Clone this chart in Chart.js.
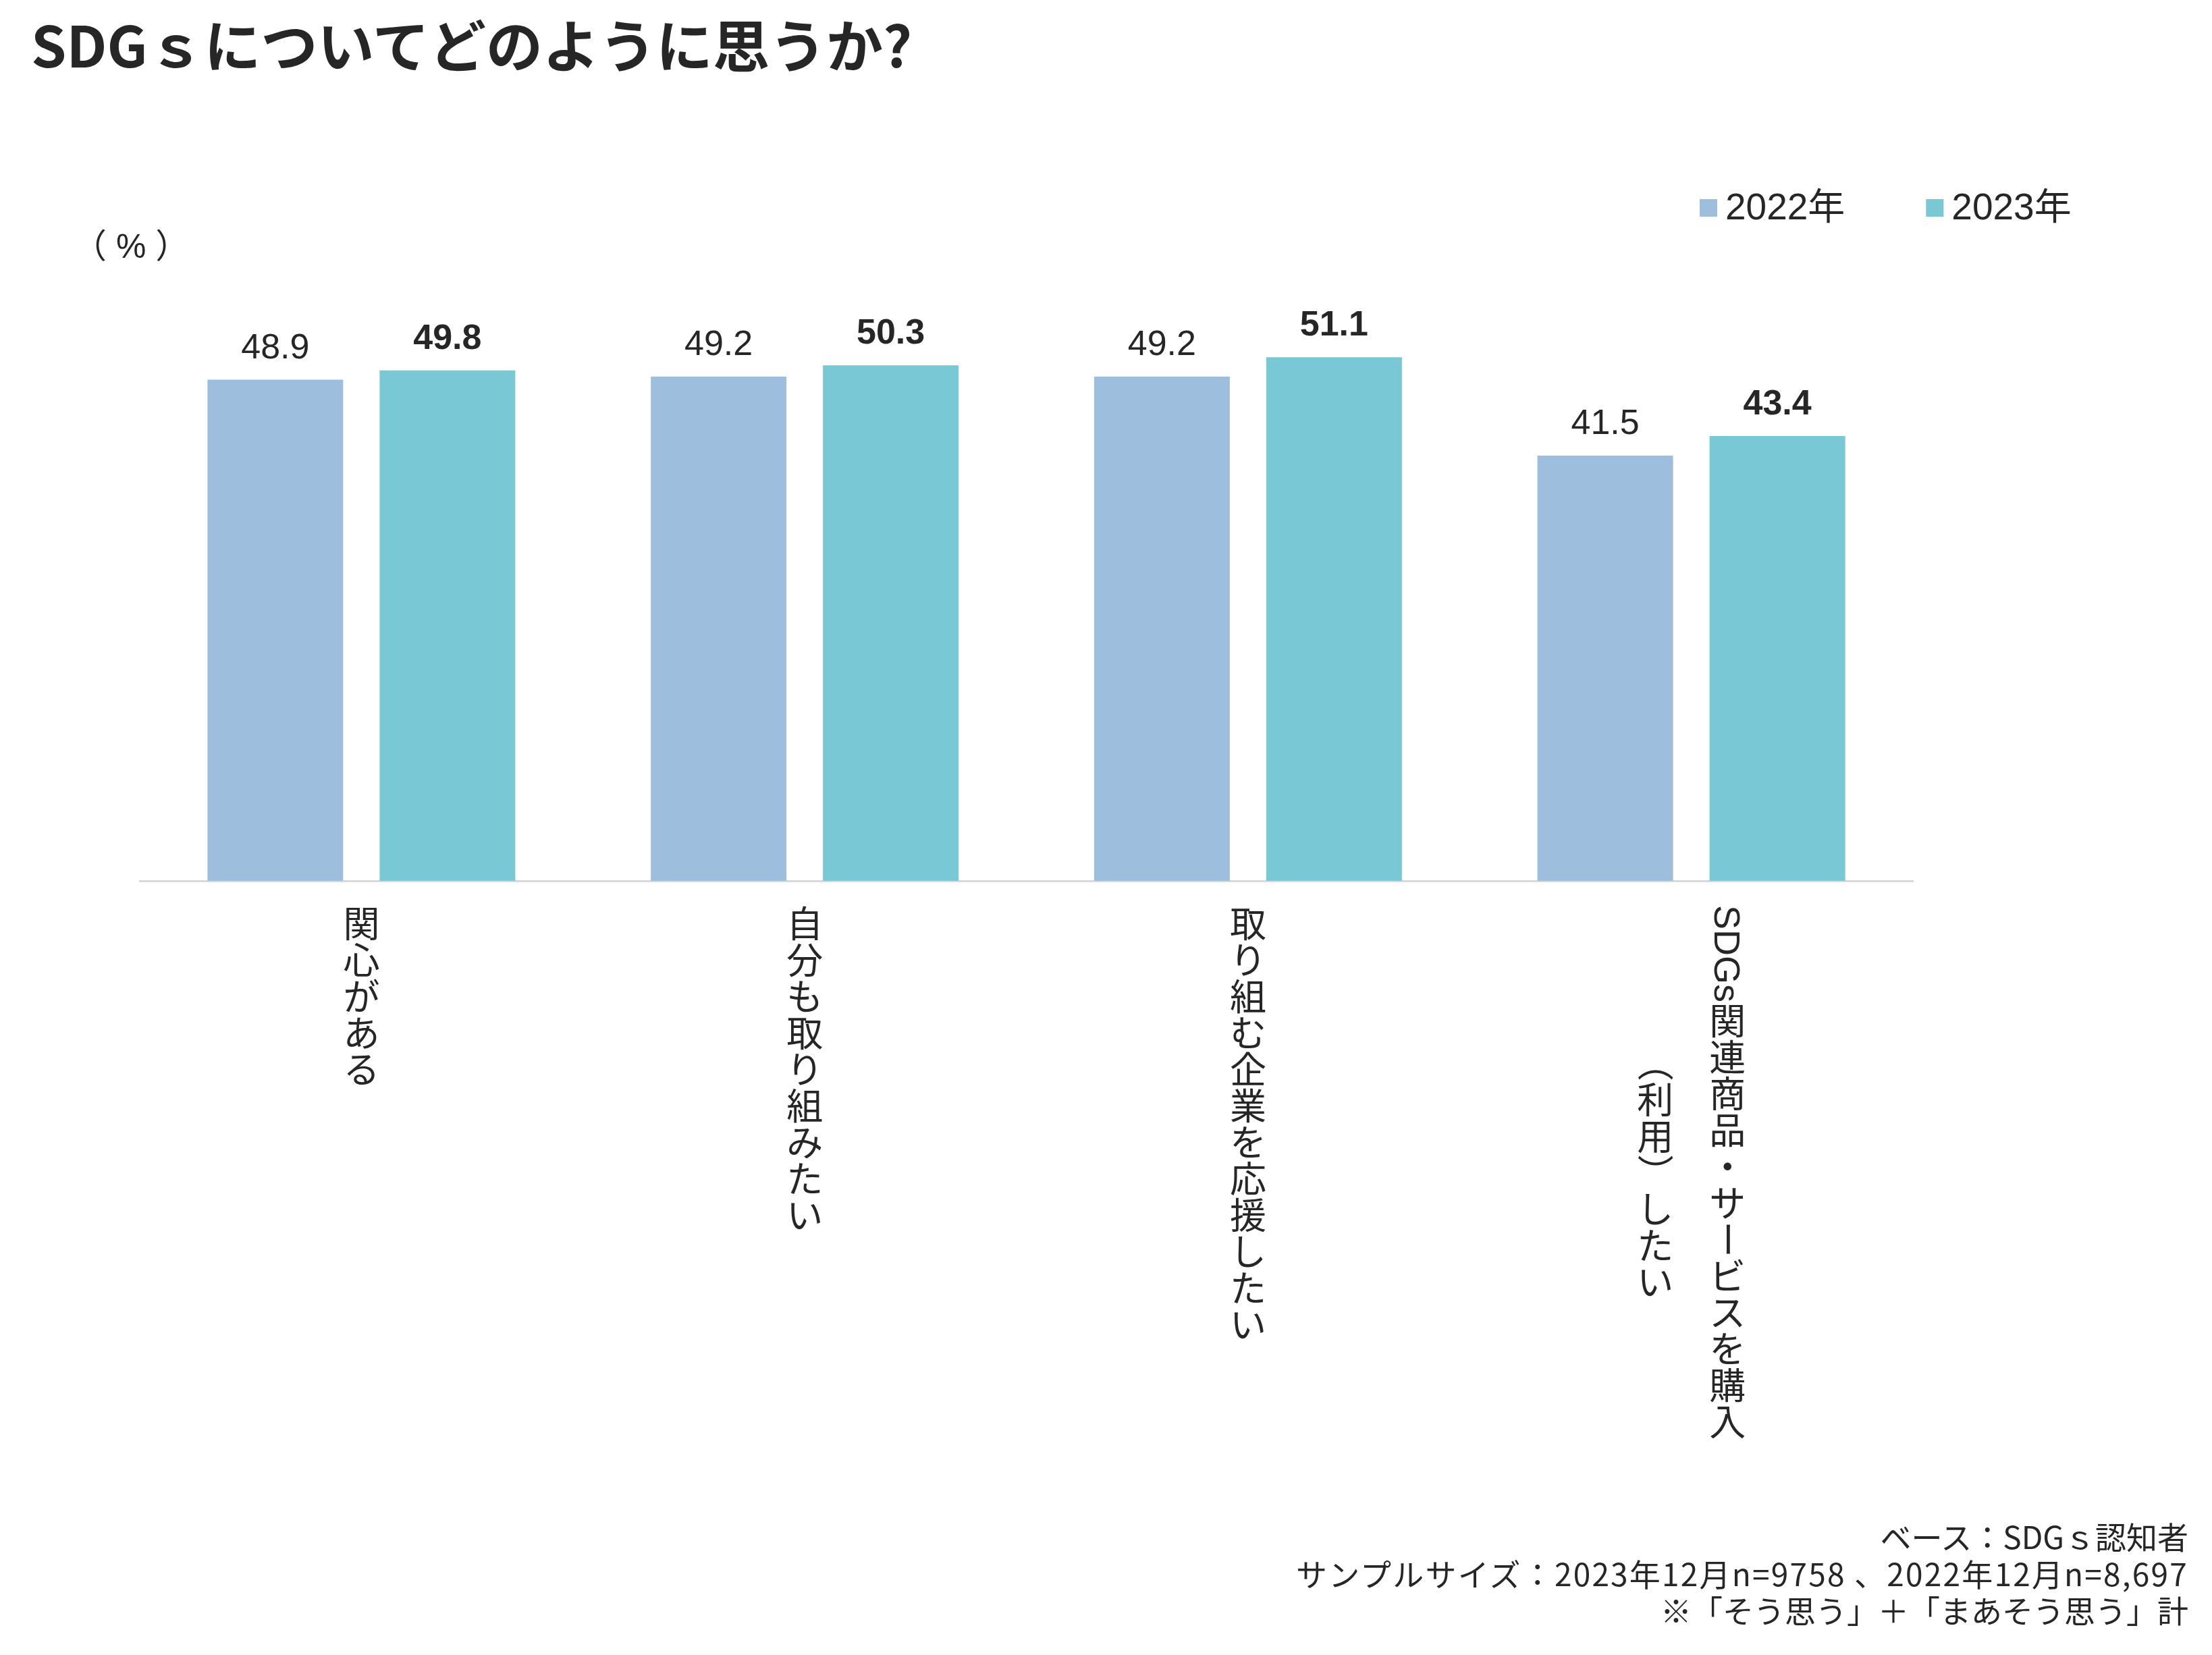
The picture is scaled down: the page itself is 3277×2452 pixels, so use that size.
<!DOCTYPE html>
<html lang="ja">
<head>
<meta charset="utf-8">
<script src="https://cdn.jsdelivr.net/npm/chart.js@4.4.1/dist/chart.umd.min.js"></script>
<style>
html, body { margin: 0; padding: 0; background: #fff; }
#wrap { position: relative; width: 3277px; height: 2452px; overflow: hidden; }
#chart { position: absolute; left: 0; top: 0; }
.title { position: absolute; left: 46px; top: 22px; font: 700 84px/84px "Noto Sans CJK JP"; color: #262626; white-space: nowrap; }
.unit { position: absolute; left: 108px; top: 340px; font: 50px/50px "Liberation Sans", "Noto Sans CJK JP"; color: #262626; white-space: pre; }
.note { position: absolute; right: 35px; top: 2248px; text-align: right; font: 46px/54.5px "Noto Sans CJK JP"; color: #262626; white-space: nowrap; }
.note .wide { letter-spacing: 2.2px; }
</style>
</head>
<body>
<div id="wrap">
  <canvas id="chart" width="3277" height="2452"></canvas>
  <div class="title">SDGｓについてどのように思うか?</div>
  <div class="unit">（ % ）</div>
  <div class="note">ベース：SDGｓ認知者<br><span class="wide">サンプルサイズ：2023年12月n=9758 、2022年12月n=8,697</span><br>※「そう思う」＋「まあそう思う」計</div>
</div>
<script>
// カテゴリ（縦書き、1要素が1列、右の列から）
var categories = [
    ["関心がある"],
    ["自分も取り組みたい"],
    ["取り組む企業を応援したい"],
    ["SDGs関連商品・サービスを購入", "（利用）したい"]
];

// 系列
var seriesNames = ["2022年", "2023年"];
var values2022  = [48.9, 49.2, 49.2, 41.5];
var values2023  = [49.8, 50.3, 51.1, 43.4];

// 縦軸の範囲（目盛りは非表示）
var yMin = 0;
var yMax = 60;

var color2022 = "#9dbfdd";
var color2023 = "#78c8d6";
var textColor = "#262626";
var LATIN = '"Liberation Sans"';
var CJK   = '"Noto Sans CJK JP"';

// 棒の上の数値
var valueLabels = {
    id: "valueLabels",
    afterDatasetsDraw: function (chart) {
        var ctx = chart.ctx;
        ctx.save();
        ctx.fillStyle = textColor;
        ctx.textAlign = "center";
        ctx.textBaseline = "alphabetic";
        chart.data.datasets.forEach(function (ds, i) {
            ctx.font = (i === 1 ? "bold " : "") + "52px " + LATIN;
            chart.getDatasetMeta(i).data.forEach(function (bar, j) {
                ctx.fillText(ds.data[j].toFixed(1), bar.x, bar.y - 32);
            });
        });
        ctx.restore();
    }
};

// 縦書きラベル
function isLatin(ch) { return /[A-Za-z0-9]/.test(ch); }

function columnLength(ctx, text, fs) {
    var len = 0;
    for (var ch of text) {
        if (isLatin(ch)) {
            ctx.font = fs + "px " + LATIN;
            len += ctx.measureText(ch).width;
        } else {
            len += fs;
        }
    }
    return len;
}

function drawColumn(ctx, text, cx, top, fs) {
    var y = top;
    for (var ch of text) {
        if (isLatin(ch)) {
            ctx.font = fs + "px " + LATIN;
            var w = ctx.measureText(ch).width;
            ctx.save();
            ctx.translate(cx, y);
            ctx.rotate(Math.PI / 2);
            ctx.textAlign = "left";
            ctx.textBaseline = "alphabetic";
            ctx.fillText(ch, 0, 0.358 * fs);
            ctx.restore();
            y += w;
        } else if ("ー（）".indexOf(ch) >= 0) {
            ctx.font = fs + "px " + CJK;
            ctx.save();
            ctx.translate(cx, y + fs / 2);
            ctx.rotate(Math.PI / 2);
            ctx.textAlign = "center";
            ctx.textBaseline = "middle";
            ctx.fillText(ch, 0, 0);
            ctx.restore();
            y += fs;
        } else {
            ctx.font = fs + "px " + CJK;
            ctx.textAlign = "center";
            ctx.textBaseline = "middle";
            ctx.fillText(ch, cx, y + fs / 2);
            y += fs;
        }
    }
}

var verticalLabels = {
    id: "verticalLabels",
    afterDraw: function (chart) {
        var ctx = chart.ctx;
        var xs = chart.scales.x;
        var fs = 54, colGap = 107, top = 1341;
        ctx.save();
        ctx.fillStyle = textColor;
        categories.forEach(function (cols, i) {
            var cx = xs.getPixelForTick(i);
            var lens = cols.map(function (c) { return columnLength(ctx, c, fs); });
            var maxLen = Math.max.apply(null, lens);
            cols.forEach(function (c, j) {
                var x = cx + ((cols.length - 1) / 2 - j) * colGap;
                drawColumn(ctx, c, x, top + (maxLen - lens[j]) / 2, fs);
            });
        });
        ctx.restore();
    }
};

// 凡例
var legendBoxes = {
    id: "legendBoxes",
    afterDraw: function (chart) {
        var ctx = chart.ctx;
        var x = 2518, yMid = 308, box = 26;
        ctx.save();
        ctx.font = "55px " + LATIN + ", " + CJK;
        ctx.textBaseline = "middle";
        ctx.textAlign = "left";
        chart.data.datasets.forEach(function (ds) {
            ctx.fillStyle = ds.backgroundColor;
            ctx.fillRect(x, yMid - box / 2, box, box);
            ctx.fillStyle = textColor;
            ctx.fillText(ds.label, x + box + 12, yMid + 2);
            x += box + 12 + ctx.measureText(ds.label).width + 120;
        });
        ctx.restore();
    }
};

var ctx = document.getElementById("chart").getContext("2d");

var chart = new Chart(ctx, {
    type: "bar",
    data: {
        labels: categories.map(function (c) { return c.join(""); }),
        datasets: [
            {
                label: seriesNames[0],
                data: values2022,
                backgroundColor: color2022,
                categoryPercentage: 0.7766,
                barPercentage: 0.788
            },
            {
                label: seriesNames[1],
                data: values2023,
                backgroundColor: color2023,
                categoryPercentage: 0.7766,
                barPercentage: 0.788
            }
        ]
    },
    options: {
        responsive: false,
        animation: false,
        devicePixelRatio: 1,
        layout: { padding: { left: 207, right: 443, top: 394, bottom: 1147 } },
        plugins: {
            legend: { display: false },
            tooltip: { enabled: false }
        },
        scales: {
            x: {
                grid: { display: false, drawTicks: false },
                ticks: { display: false },
                border: { display: true, color: "#d9d9d9", width: 3 }
            },
            y: {
                display: false,
                min: yMin,
                max: yMax
            }
        }
    },
    plugins: [valueLabels, verticalLabels, legendBoxes]
});
</script>
</body>
</html>
